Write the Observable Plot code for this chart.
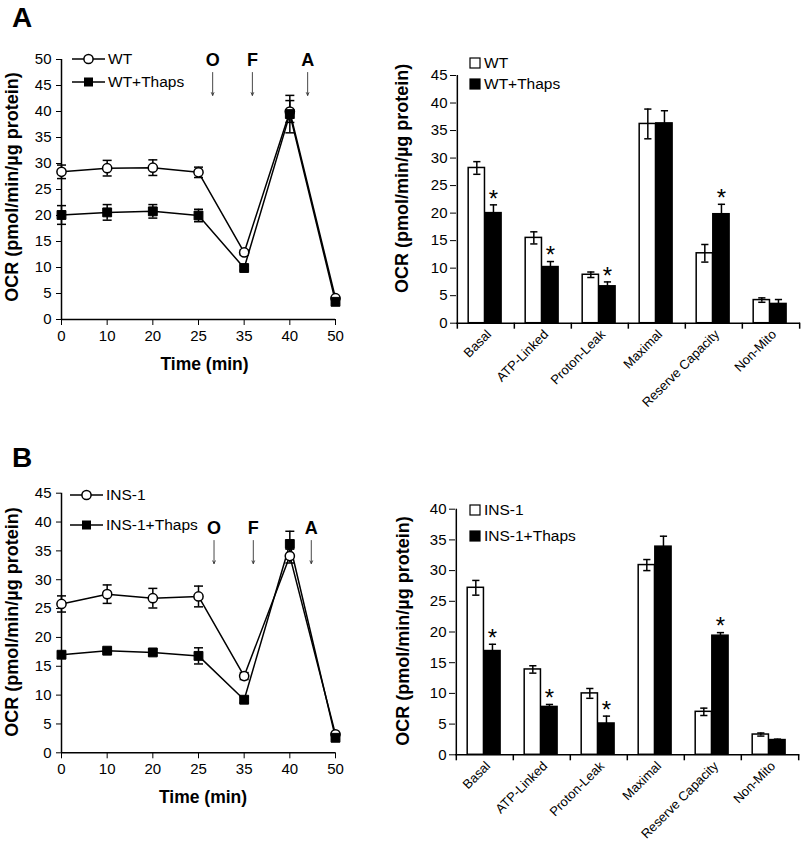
<!DOCTYPE html>
<html><head><meta charset="utf-8">
<script src="https://cdn.jsdelivr.net/npm/d3@7"></script>
<script src="https://cdn.jsdelivr.net/npm/@observablehq/plot@0.6"></script>
<style>
body{margin:0;background:#fff;}
#root{position:relative;width:803px;height:843px;overflow:hidden;background:#fff;font-family:"Liberation Sans",Arial,Helvetica,sans-serif;}
#root svg{overflow:visible;}
.letter{position:absolute;font-weight:bold;font-size:28px;line-height:28px;color:#000;}
</style></head><body><div id="root"></div>
<script>
// ---------- data ----------
const timeLabels = ["0", "10", "20", "25", "35", "40", "50"];
const wtLine = [28.4, 29.1, 29.2, 28.3, 12.9, 40.0, 4.1];
const wtLineErr = [1.3, 1.5, 1.5, 1.0, 0.5, 2.1, 0.3];
const wtThapsLine = [20.1, 20.6, 20.8, 20.0, 9.9, 39.5, 3.4];
const wtThapsLineErr = [1.8, 1.5, 1.3, 1.2, 0.4, 3.6, 0.3];
const insLine = [25.8, 27.5, 26.8, 27.1, 13.3, 34.1, 3.2];
const insLineErr = [1.4, 1.6, 1.7, 1.8, 0.6, 1.2, 0.3];
const insThapsLine = [17.0, 17.7, 17.4, 16.8, 9.2, 36.2, 2.6];
const insThapsLineErr = [0.5, 0.3, 0.5, 1.4, 0.5, 2.2, 0.3];

// drug injections (O = oligomycin, F = FCCP, A = antimycin), position along time index
const drugLabels = ["O", "F", "A"];
const drugIndexA = [3.31, 4.18, 5.39];
const drugIndexB = [3.34, 4.2, 5.47];

const categories = ["Basal", "ATP-Linked", "Proton-Leak", "Maximal", "Reserve Capacity", "Non-Mito"];
const wtBar = [28.2, 15.5, 8.8, 36.2, 12.7, 4.2];
const wtBarErr = [1.15, 1.1, 0.5, 2.7, 1.6, 0.4];
const wtThapsBar = [20.0, 10.2, 6.7, 36.3, 19.8, 3.5];
const wtThapsBarErr = [1.5, 1.0, 0.8, 2.3, 1.8, 0.8];
const sigA = [true, true, true, false, true, false];
const insBar = [27.2, 13.9, 10.0, 30.9, 7.0, 3.3];
const insBarErr = [1.2, 0.6, 0.8, 0.9, 0.6, 0.25];
const insThapsBar = [16.9, 7.8, 5.1, 33.9, 19.4, 2.4];
const insThapsBarErr = [1.1, 0.4, 1.2, 1.7, 0.5, 0.15];
const sigB = [true, true, true, false, true, false];

// ---------- drawing ----------
const FONT = '"Liberation Sans", Arial, Helvetica, sans-serif';
const root = document.getElementById("root");
const yTitle = "OCR (pmol/min/\u00B5g protein)";
const capSymbol = {draw(ctx, size) { const h = Math.sqrt(size / Math.PI); ctx.moveTo(-h, 0); ctx.lineTo(h, 0); }};

function place(node, left, top) {
  node.style.position = "absolute";
  node.style.left = left + "px";
  node.style.top = top + "px";
  root.appendChild(node);
}

function linePanel(c) {
  const rows = (vals, errs, name) => vals.map((v, i) => ({t: i, v, e: errs[i], name}));
  const a = rows(c.v1, c.e1, "a"), b = rows(c.v2, c.e2, "b"), all = a.concat(b);
  const drugs = drugLabels.map((l, i) => ({label: l, x: c.drugX[i]}));
  return Plot.plot({
    width: 400, height: c.height,
    marginLeft: 61, marginRight: 65, marginTop: c.mt, marginBottom: c.mb,
    style: {fontFamily: FONT, fontSize: "15px", color: "#000", background: "transparent", overflow: "visible"},
    x: {type: "linear", domain: [0, 6], ticks: d3.range(7), tickFormat: i => timeLabels[i], tickSize: 6, tickPadding: 5, label: null},
    y: {domain: [0, c.yMax], ticks: d3.range(0, c.yMax + 1, 5), tickSize: 5, tickPadding: 5, label: null},
    marks: [
      Plot.ruleY([0], {stroke: "#000", strokeWidth: 1.5}),
      Plot.ruleX([0], {stroke: "#000", strokeWidth: 1.5}),
      Plot.line(all, {x: "t", y: "v", z: "name", stroke: "#000", strokeWidth: 1.5}),
      Plot.ruleX(all, {x: "t", y1: d => d.v - d.e, y2: d => d.v + d.e, stroke: "#000", strokeWidth: 1.5}),
      Plot.dot(all, {x: "t", y: d => d.v + d.e, symbol: capSymbol, r: 4.5, fill: "none", stroke: "#000", strokeWidth: 1.5}),
      Plot.dot(all, {x: "t", y: d => d.v - d.e, symbol: capSymbol, r: 4.5, fill: "none", stroke: "#000", strokeWidth: 1.5}),
      Plot.dot(a, {x: "t", y: "v", symbol: "circle", r: 4.6, fill: "#fff", stroke: "#000", strokeWidth: 1.5}),
      Plot.dot(b, {x: "t", y: "v", symbol: "square", r: 5, fill: "#000", stroke: "#000", strokeWidth: 1}),
      Plot.arrow(drugs, {x1: "x", x2: "x", y1: () => c.arrowTop, y2: () => c.arrowBottom, stroke: "#333", strokeWidth: 0.9, headLength: 5, headAngle: 50}),
      Plot.text(drugs, {x: "x", y: () => c.labelY, text: "label", fontWeight: "bold", fontSize: 18}),
      Plot.text(["Time (min)"], {frameAnchor: "bottom", textAnchor: "middle", dx: c.tdx, dy: 50, fontWeight: "bold", fontSize: 17.5}),
      Plot.text([yTitle], {frameAnchor: "left", textAnchor: "middle", rotate: -90, dx: -49, dy: c.ydy, fontWeight: "bold", fontSize: 18})
    ]
  });
}

function barPanel(c) {
  const width = 403;
  const bw = (width - c.ml - c.mr) / categories.length;
  const f0 = 0.195, f1 = 0.485, f2 = 0.775;
  const dx1 = ((f0 + f1) / 2 - 0.5) * bw, dx2 = ((f1 + f2) / 2 - 0.5) * bw;
  const r1 = categories.map((k, i) => ({k, v: c.v1[i], e: c.e1[i]}));
  const r2 = categories.map((k, i) => ({k, v: c.v2[i], e: c.e2[i], s: c.sig[i]}));
  const errMarks = (rows, dx) => [
    Plot.ruleX(rows, {x: "k", y1: d => d.v - d.e, y2: d => d.v + d.e, dx, stroke: "#000", strokeWidth: 1.5}),
    Plot.dot(rows, {x: "k", y: d => d.v + d.e, dx, symbol: capSymbol, r: 3.6, fill: "none", stroke: "#000", strokeWidth: 1.5}),
    Plot.dot(rows, {x: "k", y: d => d.v - d.e, dx, symbol: capSymbol, r: 3.6, fill: "none", stroke: "#000", strokeWidth: 1.5})
  ];
  return Plot.plot({
    width, height: c.height,
    marginLeft: c.ml, marginRight: c.mr, marginTop: c.mt, marginBottom: c.mb,
    style: {fontFamily: FONT, fontSize: "15px", color: "#000", background: "transparent", overflow: "visible"},
    x: {type: "band", domain: categories, padding: 0, axis: null},
    y: {domain: [0, c.yMax], ticks: d3.range(0, c.yMax + 1, 5), tickSize: 6, tickPadding: 3, label: null},
    marks: [
      Plot.barY(r1, {x: "k", y: "v", fill: "#fff", stroke: "#000", strokeWidth: 1.5, insetLeft: f0 * bw, insetRight: (1 - f1) * bw}),
      Plot.barY(r2, {x: "k", y: "v", fill: "#000", stroke: "#000", strokeWidth: 1.5, insetLeft: f1 * bw, insetRight: (1 - f2) * bw}),
      ...errMarks(r1, dx1),
      ...errMarks(r2, dx2),
      Plot.text(r2.filter(d => d.s), {x: "k", y: d => d.v + d.e, text: () => "*", dx: dx2, dy: -6, fontSize: 24}),
      Plot.ruleY([0], {stroke: "#000", strokeWidth: 1.5}),
      Plot.ruleX(categories.slice(0, 1), {x: d => d, dx: -bw / 2, stroke: "#000", strokeWidth: 1.5, insetBottom: -6}),
      Plot.ruleX(categories.slice(1), {x: d => d, y1: () => 0, y2: () => 0, dx: -bw / 2, stroke: "#000", strokeWidth: 1.5, insetBottom: -6}),
      Plot.ruleX(categories.slice(-1), {x: d => d, y1: () => 0, y2: () => 0, dx: bw / 2, stroke: "#000", strokeWidth: 1.5, insetBottom: -6}),
      Plot.text(categories, {x: d => d, frameAnchor: "bottom", rotate: -45, textAnchor: "end", dx: 6, dy: 12, fontSize: 13}),
      Plot.text([yTitle], {frameAnchor: "left", textAnchor: "middle", rotate: -90, dx: c.ydx, dy: c.ydy, fontWeight: "bold", fontSize: 18})
    ]
  });
}

place(linePanel({v1: wtLine, e1: wtLineErr, v2: wtThapsLine, e2: wtThapsLineErr, yMax: 50,
  height: 340, mt: 19, mb: 61, drugX: drugIndexA, labelY: 49.8, arrowTop: 47.5, arrowBottom: 43.1, tdx: 6, ydy: -2.5}), 0, 40);
place(linePanel({v1: insLine, e1: insLineErr, v2: insThapsLine, e2: insThapsLineErr, yMax: 45,
  height: 380, mt: 52.7, mb: 67.7, drugX: drugIndexB, labelY: 38.9, arrowTop: 36.8, arrowBottom: 32.8, tdx: 4.5, ydy: -1}), 0, 440);
place(barPanel({v1: wtBar, e1: wtBarErr, v2: wtThapsBar, e2: wtThapsBarErr, sig: sigA, yMax: 45,
  height: 360, ml: 56, mr: 3, mt: 35, mb: 77.3, ydx: -54, ydy: -21}), 400, 40);
place(barPanel({v1: insBar, e1: insBarErr, v2: insThapsBar, e2: insThapsBarErr, sig: sigB, yMax: 40,
  height: 393, ml: 55, mr: 3.7, mt: 58.7, mb: 88.7, ydx: -52, ydy: -1}), 400, 450);

// ---------- legends & panel letters ----------
const ov = d3.select(root).append("svg").attr("width", 803).attr("height", 843)
  .style("position", "absolute").style("left", "0px").style("top", "0px")
  .style("pointer-events", "none").style("font-family", FONT);

function lineLegend(x, y, label, filled) {
  ov.append("line").attr("x1", x).attr("x2", x + 33).attr("y1", y).attr("y2", y).attr("stroke", "#000").attr("stroke-width", 1.5);
  if (filled) ov.append("rect").attr("x", x + 16.5 - 4.5).attr("y", y - 4.5).attr("width", 9).attr("height", 9).attr("fill", "#000");
  else ov.append("circle").attr("cx", x + 16.5).attr("cy", y).attr("r", 4.6).attr("fill", "#fff").attr("stroke", "#000").attr("stroke-width", 1.5);
  ov.append("text").attr("x", x + 36).attr("y", y).attr("dy", "0.35em").attr("font-size", 15.5).text(label);
}
function barLegend(x, y, label, filled) {
  ov.append("rect").attr("x", x).attr("y", y - 5).attr("width", 10).attr("height", 10)
    .attr("fill", filled ? "#000" : "#fff").attr("stroke", "#000").attr("stroke-width", 1.2);
  ov.append("text").attr("x", x + 14).attr("y", y).attr("dy", "0.35em").attr("font-size", 15.5).text(label);
}
lineLegend(72, 59, "WT", false);
lineLegend(72, 82, "WT+Thaps", true);
lineLegend(70, 495, "INS-1", false);
lineLegend(70, 525, "INS-1+Thaps", true);
barLegend(470, 63, "WT", false);
barLegend(470, 84, "WT+Thaps", true);
barLegend(470, 510, "INS-1", false);
barLegend(470, 536, "INS-1+Thaps", true);

for (const [t, l, top] of [["A", 12, 4], ["B", 12, 444]]) {
  const d = document.createElement("div");
  d.className = "letter"; d.textContent = t;
  d.style.left = l + "px"; d.style.top = top + "px";
  root.appendChild(d);
}
</script></body></html>
